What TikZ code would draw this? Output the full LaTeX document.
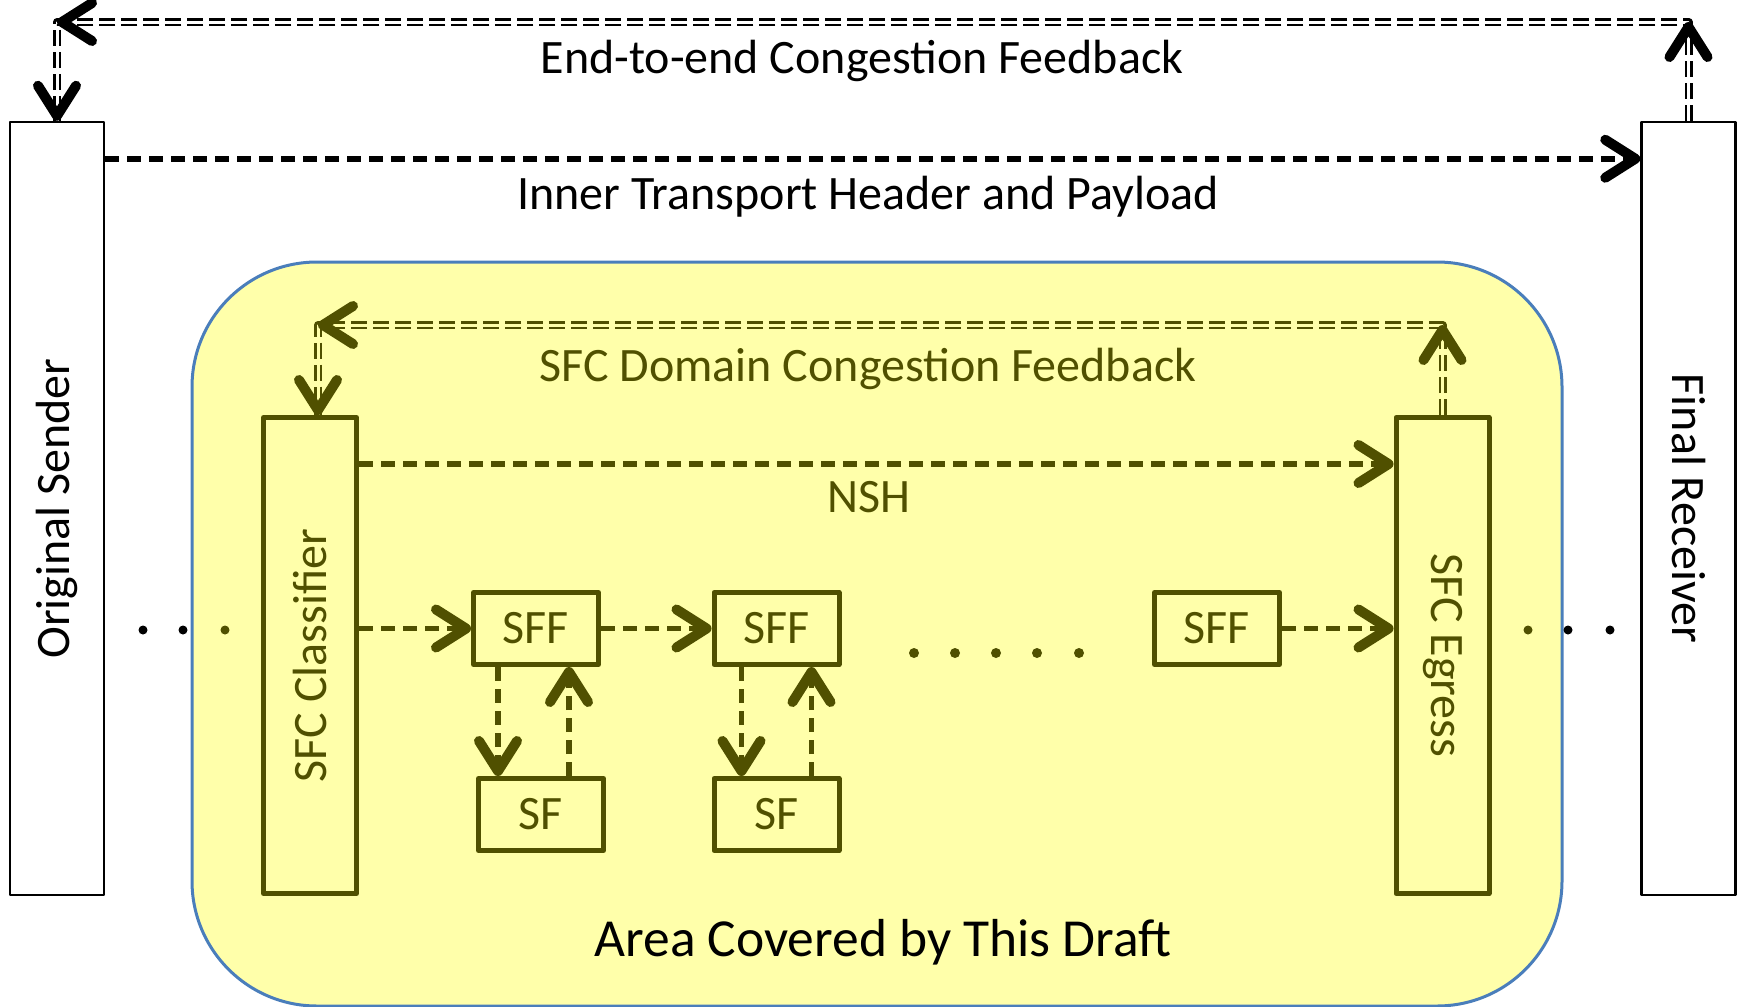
\documentclass[tikz,border=0pt]{standalone}
\usepackage{fontspec}
\setmainfont{Carlito}
\usetikzlibrary{arrows.meta}
\definecolor{sfcol}{RGB}{80,80,0}
\definecolor{areafill}{RGB}{255,255,170}
\definecolor{areaedge}{RGB}{74,126,187}
\tikzset{
 hostbox/.style={draw,line width=2.5pt,minimum width=94pt,minimum height=773pt},
 sfcbox/.style={draw=sfcol,line width=5pt,minimum width=93pt,minimum height=476pt},
 fwdbox/.style={draw=sfcol,line width=5pt,text=sfcol,minimum width=125pt,minimum height=72pt},
 barb/.style={-{Straight Barb[length=30pt,width=38pt,line width=10pt,round]}},
 flow/.style={barb,line width=5.5pt,line cap=butt,dash pattern=on 14pt off 8pt},
 fback/.style={double=#1,double distance=3pt,line width=2.5pt,line cap=butt,dash pattern=on 16pt off 6pt},
 tip/.style={barb,line width=0.5pt}
}
\begin{document}
\begin{tikzpicture}[x=1pt,y=-1pt,font=\fontsize{48}{58}\selectfont,line join=round,line cap=round,inner sep=0pt]
 \useasboundingbox (0,0) rectangle (1741,1007);
 \clip (0,0) rectangle (1741,1007);
 \draw[areaedge,line width=3pt,fill=areafill,rounded corners=125pt] (192,262) rectangle (1562,1006);
 \node[hostbox] (snd) at (57,508.5) {};
 \node[hostbox] (rcv) at (1688.5,508.5) {};
 \node[rotate=90] (sndtxt) at (snd) {Original Sender};
 \node[rotate=-90] (rcvtxt) at (rcv) {Final Receiver};
 \node[sfcbox] (cls) at (310,655.5) {};
 \node[sfcbox] (egr) at (1442.5,655.5) {};
 \node[rotate=90,text=sfcol] (clstxt) at (cls) {SFC Classifier};
 \node[rotate=-90,text=sfcol] (egrtxt) at (egr) {SFC Egress};
 \node[fwdbox] (sff1) at (536,628.5) {SFF};
 \node[fwdbox] (sff2) at (776.5,628.5) {SFF};
 \node[fwdbox] (sff3) at (1217,628.5) {SFF};
 \node[fwdbox] (sf1) at (541,814.5) {SF};
 \node[fwdbox] (sf2) at (776.5,814.5) {SF};
 \node (e2e) at (862,61) {End-to-end Congestion Feedback};
 \node (itp) at (868,197) {Inner Transport Header and Payload};
 \node[text=sfcol] (dcf) at (868,369) {SFC Domain Congestion Feedback};
 \node[text=sfcol] (nsh) at (869,497) {NSH};
 \node[font=\fontsize{53.5}{64}\selectfont] (area) at (883,942) {Area Covered by This Draft};
 \fill (143,630) circle (4.5) (183,630) circle (4.5) (1568,630) circle (4.5) (1610,630) circle (4.5);
 \fill[sfcol] (225,630) circle (4.5) (1528,630) circle (4.5);
 \foreach \x in {914,955,996,1037,1079} \fill[sfcol] (\x,653) circle (5);
 \draw[flow] ([yshift=-38pt]snd.north east) -- ([yshift=-38pt]rcv.north west);
 \draw[flow,sfcol] ([yshift=-49pt]cls.north east) -- ([yshift=-49pt]egr.north west);
 \draw[flow,sfcol] (cls.east |- sff1) -- (sff1.west);
 \draw[flow,sfcol] (sff1.east) -- (sff2.west);
 \draw[flow,sfcol] (sff3.east) -- (egr.west |- sff3);
 \coordinate (dn1) at ([xshift=-38pt]sff1.south);
 \coordinate (up1) at ([xshift=33pt]sff1.south);
 \coordinate (dn2) at ([xshift=-35pt]sff2.south);
 \coordinate (up2) at ([xshift=35pt]sff2.south);
 \draw[flow,sfcol] (dn1) -- (dn1 |- sf1.north);
 \draw[flow,sfcol] (up1 |- sf1.north) -- (up1);
 \draw[flow,sfcol] (dn2) -- (dn2 |- sf2.north);
 \draw[flow,sfcol] (up2 |- sf2.north) -- (up2);
 \coordinate (etr) at (rcv.north |- 0,22);
 \coordinate (etl) at (snd.north |- 0,22);
 \draw[fback=white] (rcv.north) -- (etr) -- (etl) -- (snd.north);
 \draw[tip] ([yshift=-2pt]etr) -- (etr);
 \draw[tip] ([xshift=2pt]etl) -- (etl);
 \draw[tip] ([yshift=2pt]snd.north) -- (snd.north);
 \coordinate (clsin) at ([xshift=8pt]cls.north);
 \coordinate (dtr) at (egr.north |- 0,325);
 \coordinate (dtl) at (clsin |- 0,325);
 \draw[fback=areafill,sfcol] (egr.north) -- (dtr) -- (dtl) -- (clsin);
 \draw[tip,sfcol] ([yshift=-2pt]dtr) -- (dtr);
 \draw[tip,sfcol] ([xshift=2pt]dtl) -- (dtl);
 \draw[tip,sfcol] ([yshift=2pt]clsin) -- (clsin);
\end{tikzpicture}
\end{document}
